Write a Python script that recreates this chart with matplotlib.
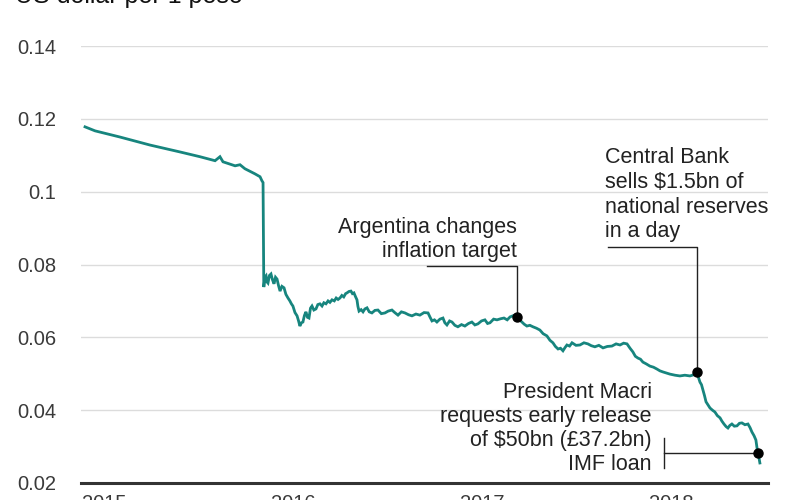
import matplotlib
matplotlib.use("Agg")
import matplotlib.pyplot as plt

plt.rcParams['font.family'] = ['Liberation Sans', 'DejaVu Sans']

# ---- data (fractional year, US dollar per 1 peso) ----
years = [
    2015.016, 2015.069, 2015.201, 2015.360, 2015.519, 2015.624, 2015.704, 2015.730,
    2015.746, 2015.810, 2015.836, 2015.862, 2015.915, 2015.942, 2015.952, 2015.958,
    2015.962, 2015.968, 2015.974, 2015.979, 2015.984, 2015.992, 2016.000, 2016.008,
    2016.016, 2016.024, 2016.032, 2016.040, 2016.048, 2016.058, 2016.069, 2016.079,
    2016.090, 2016.100, 2016.108, 2016.116, 2016.127, 2016.138, 2016.146, 2016.153,
    2016.161, 2016.169, 2016.177, 2016.185, 2016.193, 2016.201, 2016.209, 2016.217,
    2016.227, 2016.238, 2016.248, 2016.259, 2016.270, 2016.280, 2016.291, 2016.302,
    2016.312, 2016.323, 2016.335, 2016.345, 2016.355, 2016.365, 2016.375, 2016.385,
    2016.395, 2016.402, 2016.413, 2016.423, 2016.431, 2016.439, 2016.447, 2016.455,
    2016.460, 2016.466, 2016.477, 2016.487, 2016.497, 2016.508, 2016.520, 2016.534,
    2016.550, 2016.566, 2016.584, 2016.603, 2016.620, 2016.640, 2016.655, 2016.672,
    2016.690, 2016.709, 2016.728, 2016.746, 2016.767, 2016.788, 2016.810, 2016.831,
    2016.842, 2016.852, 2016.865, 2016.878, 2016.894, 2016.910, 2016.920, 2016.931,
    2016.945, 2016.958, 2016.973, 2016.989, 2017.008, 2017.026, 2017.045, 2017.063,
    2017.079, 2017.095, 2017.114, 2017.132, 2017.146, 2017.159, 2017.178, 2017.196,
    2017.215, 2017.233, 2017.250, 2017.265, 2017.284, 2017.302, 2017.315, 2017.328,
    2017.340, 2017.354, 2017.370, 2017.386, 2017.405, 2017.423, 2017.440, 2017.460,
    2017.476, 2017.492, 2017.505, 2017.519, 2017.532, 2017.545, 2017.556, 2017.566,
    2017.580, 2017.593, 2017.614, 2017.635, 2017.656, 2017.677, 2017.695, 2017.714,
    2017.735, 2017.757, 2017.780, 2017.804, 2017.826, 2017.847, 2017.866, 2017.884,
    2017.900, 2017.915, 2017.928, 2017.942, 2017.955, 2017.968, 2017.986, 2018.005,
    2018.024, 2018.042, 2018.058, 2018.074, 2018.092, 2018.111, 2018.138, 2018.164,
    2018.190, 2018.217, 2018.236, 2018.254, 2018.262, 2018.270, 2018.278, 2018.286,
    2018.294, 2018.302, 2018.312, 2018.323, 2018.336, 2018.349, 2018.362, 2018.376,
    2018.386, 2018.397, 2018.408, 2018.418, 2018.428, 2018.439, 2018.452, 2018.466,
    2018.479, 2018.492, 2018.508, 2018.524, 2018.535, 2018.545, 2018.556, 2018.566,
    2018.572, 2018.577, 2018.582, 2018.587]
rates = [
    0.1178, 0.1167, 0.1150, 0.1128, 0.1109, 0.1096, 0.1085, 0.1096,
    0.1082, 0.1071, 0.1074, 0.1063, 0.1049, 0.1041, 0.1030, 0.1025,
    0.0738, 0.0765, 0.0769, 0.0752, 0.0749, 0.0770, 0.0774, 0.0758,
    0.0747, 0.0765, 0.0760, 0.0742, 0.0727, 0.0740, 0.0736, 0.0718,
    0.0708, 0.0700, 0.0692, 0.0686, 0.0668, 0.0659, 0.0645, 0.0631,
    0.0640, 0.0642, 0.0660, 0.0670, 0.0655, 0.0653, 0.0680, 0.0686,
    0.0675, 0.0678, 0.0690, 0.0692, 0.0686, 0.0695, 0.0692, 0.0700,
    0.0696, 0.0703, 0.0700, 0.0708, 0.0704, 0.0708, 0.0715, 0.0711,
    0.0720, 0.0722, 0.0726, 0.0727, 0.0720, 0.0722, 0.0712, 0.0703,
    0.0685, 0.0672, 0.0676, 0.0670, 0.0678, 0.0681, 0.0670, 0.0667,
    0.0674, 0.0675, 0.0665, 0.0667, 0.0672, 0.0675, 0.0668, 0.0661,
    0.0670, 0.0667, 0.0662, 0.0659, 0.0664, 0.0661, 0.0668, 0.0667,
    0.0655, 0.0645, 0.0648, 0.0642, 0.0650, 0.0653, 0.0640, 0.0634,
    0.0645, 0.0642, 0.0633, 0.0629, 0.0635, 0.0631, 0.0638, 0.0642,
    0.0634, 0.0637, 0.0645, 0.0648, 0.0638, 0.0640, 0.0650, 0.0648,
    0.0651, 0.0653, 0.0648, 0.0656, 0.0660, 0.0656, 0.0648, 0.0642,
    0.0636, 0.0631, 0.0633, 0.0629, 0.0625, 0.0620, 0.0610, 0.0604,
    0.0592, 0.0585, 0.0575, 0.0568, 0.0570, 0.0563, 0.0572, 0.0579,
    0.0576, 0.0585, 0.0578, 0.0579, 0.0585, 0.0582, 0.0577, 0.0574,
    0.0578, 0.0571, 0.0575, 0.0576, 0.0582, 0.0579, 0.0584, 0.0582,
    0.0570, 0.0560, 0.0548, 0.0543, 0.0540, 0.0532, 0.0527, 0.0521,
    0.0518, 0.0513, 0.0508, 0.0505, 0.0502, 0.0499, 0.0496, 0.0494,
    0.0496, 0.0494, 0.0497, 0.0506, 0.0490, 0.0477, 0.0470, 0.0455,
    0.0440, 0.0423, 0.0415, 0.0406, 0.0400, 0.0395, 0.0385, 0.0379,
    0.0370, 0.0362, 0.0355, 0.0351, 0.0358, 0.0362, 0.0356, 0.0357,
    0.0364, 0.0365, 0.0360, 0.0362, 0.0352, 0.0340, 0.0330, 0.0318,
    0.0296, 0.0282, 0.0270, 0.0255]

y_ticks = [0.02, 0.04, 0.06, 0.08, 0.1, 0.12, 0.14]
y_tick_labels = ["0.02", "0.04", "0.06", "0.08", "0.1", "0.12", "0.14"]
x_ticks = [2015, 2016, 2017, 2018]
x_tick_labels = ["2015", "2016", "2017", "2018"]

title = "US dollar per 1 peso"
events = [
    # (x of dot, y of dot, text lines)
    (2017.302, 0.0656, ["Argentina changes", "inflation target"]),
    (2018.254, 0.0506, ["Central Bank", "sells $1.5bn of", "national reserves", "in a day"]),
    (2018.577, 0.0282, ["President Macri", "requests early release", "of $50bn (£37.2bn)", "IMF loan"]),
]

line_color = "#17857e"
text_color = "#222222"
tick_color = "#3a3a3a"

fig = plt.figure(figsize=(8, 5), dpi=100)
ax = fig.add_axes([81 / 800, 17 / 500, (768 - 81) / 800, (483 - 46) / 500])

ax.plot(years, rates, color=line_color, lw=2.0, solid_joinstyle="miter", zorder=3)

ax.set_xlim(2014.9947, 2018.630)
ax.set_ylim(0.02, 0.14)

ax.set_yticks(y_ticks)
ax.set_yticklabels(y_tick_labels)
ax.set_xticks(x_ticks)
ax.set_xticklabels(x_tick_labels, ha="left")
ax.tick_params(axis="y", length=0, pad=18, labelsize=14.5, labelcolor=tick_color)
ax.tick_params(axis="x", length=0, pad=8, labelsize=14.5, labelcolor=tick_color)

for v in y_ticks[1:]:
    ax.axhline(v, color="#dcdcdc", lw=1.0, zorder=1)
ax.axhline(0.02, color="#333333", lw=2.2, zorder=4, clip_on=False)

for s in ax.spines.values():
    s.set_visible(False)

fig.text(15 / 800, 1 - 3 / 500, title, fontsize=18, color="#111111",
         ha="left", va="baseline")

fs = 15.5
# Annotation 1
x1, y1, lines1 = events[0]
ax.plot([2016.825, x1, x1], [0.0796, 0.0796, y1], color="#222222", lw=1.0, zorder=5)
for txt, yb in zip(lines1, [0.0887, 0.0821]):
    ax.text(x1, yb, txt, ha="right", va="baseline", fontsize=fs, color=text_color)

# Annotation 2
x2, y2, lines2 = events[1]
ax.plot([2017.783, x2, x2], [0.0848, 0.0848, y2], color="#222222", lw=1.0, zorder=5)
for txt, yb in zip(lines2, [0.1079, 0.1010, 0.0942, 0.0876]):
    ax.text(2017.767, yb, txt, ha="left", va="baseline", fontsize=fs, color=text_color)

# Annotation 3
x3, y3, lines3 = events[2]
ax.plot([2018.079, x3], [y3, y3], color="#222222", lw=1.0, zorder=5)
ax.plot([2018.079, 2018.079], [0.0241, 0.0324], color="#222222", lw=1.0, zorder=5)
for txt, yb in zip(lines3, [0.0434, 0.0368, 0.0302, 0.0236]):
    ax.text(2018.016, yb, txt, ha="right", va="baseline", fontsize=fs, color=text_color)

ax.plot([e[0] for e in events], [e[1] for e in events], "o", color="black",
        markersize=6.5, zorder=6)

fig.savefig("out.png", dpi=100)
